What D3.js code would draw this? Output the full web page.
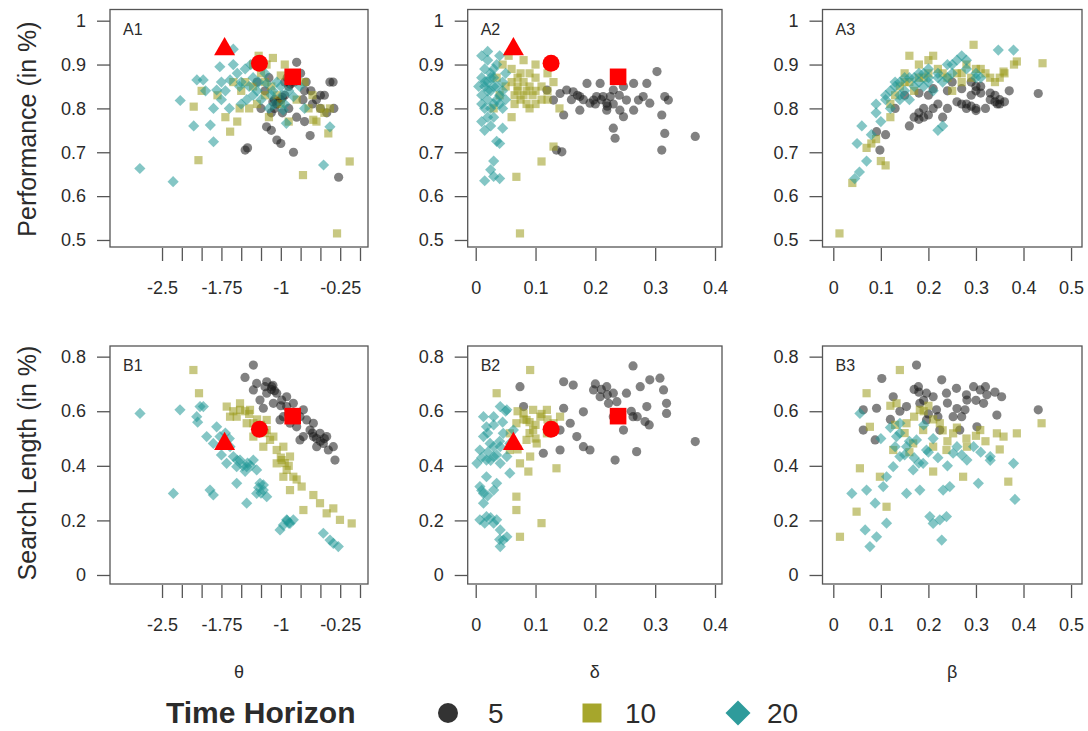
<!DOCTYPE html>
<html>
<head>
<meta charset="utf-8">
<script src="https://cdn.jsdelivr.net/npm/d3@7"></script>
<style>
  body { margin: 0; background: #fff; }
  svg { display: block; }
  text { font-family: "Liberation Sans", Arial, Helvetica, sans-serif; fill: #2b2b2b; }
</style>
</head>
<body>
<svg id="chart" width="1088" height="731"></svg>
<script>
// ---- axis ticks and labels ----
const thetaTicks = [-2.5, -2.25, -2, -1.75, -1.5, -1.25, -1, -0.75, -0.5, -0.25, 0];
const thetaTickLabels = { "-2.5": "-2.5", "-1.75": "-1.75", "-1": "-1", "-0.25": "-0.25" };
const deltaTicks = [0, 0.1, 0.2, 0.3, 0.4];
const deltaTickLabels = ["0", "0.1", "0.2", "0.3", "0.4"];
const betaTicks = [0, 0.1, 0.2, 0.3, 0.4, 0.5];
const betaTickLabels = ["0", "0.1", "0.2", "0.3", "0.4", "0.5"];
const perfTicks = [0.5, 0.6, 0.7, 0.8, 0.9, 1];
const perfTickLabels = ["0.5", "0.6", "0.7", "0.8", "0.9", "1"];
const searchTicks = [0, 0.2, 0.4, 0.6, 0.8];
const searchTickLabels = ["0", "0.2", "0.4", "0.6", "0.8"];

const horizons = ["5", "10", "20"];

// ---- Performance vs theta ----
const perfTheta5 = [[-1.45,0.705],[-1.42,0.71],[-1.18,0.758],[-1.12,0.75],[-1.05,0.728],[-1.0,0.72],[-0.84,0.70],[-0.63,0.738],[-0.27,0.643],[-1.1,0.815],[-1.05,0.81],[-1.0,0.82],[-0.95,0.83],[-1.08,0.80],[-0.98,0.79],[-0.9,0.80],[-0.95,0.86],[-0.9,0.85],[-0.85,0.87],[-0.8,0.905],[-0.75,0.88],[-0.7,0.84],[-0.62,0.84],[-0.55,0.82],[-0.5,0.83],[-0.45,0.83],[-0.38,0.86],[-0.34,0.86],[-0.5,0.80],[-0.6,0.81],[-1.2,0.84],[-1.3,0.86],[-1.15,0.87],[-0.8,0.78],[-0.7,0.77],[-0.42,0.79],[-0.33,0.80],[-1.08,0.82],[-1.03,0.815],[-0.98,0.825],[-0.88,0.855],[-0.83,0.86],[-0.92,0.87],[-1.12,0.79],[-0.72,0.82],[-0.68,0.86],[-1.25,0.80]];
const perfTheta10 = [[-2.1,0.804],[-2.04,0.682],[-1.64,0.747],[-1.52,0.80],[-1.35,0.85],[-1.18,0.90],[-1.1,0.915],[-1.05,0.83],[-0.85,0.88],[-0.72,0.648],[-0.59,0.774],[-0.5,0.80],[-0.38,0.80],[-0.4,0.743],[-0.13,0.679],[-0.29,0.515],[-2.0,0.84],[-1.8,0.83],[-1.45,0.86],[-1.4,0.80],[-1.25,0.88],[-1.3,0.81],[-1.2,0.83],[-1.0,0.875],[-0.95,0.90],[-0.8,0.82],[-0.7,0.86],[-0.65,0.80],[-1.55,0.77],[-1.15,0.78],[-1.6,0.86],[-0.9,0.77],[-1.35,0.9],[-1.28,0.92],[-1.2,0.86],[-1.12,0.85],[-1.0,0.81],[-0.6,0.83],[-0.45,0.79],[-1.7,0.78],[-1.5,0.84],[-0.55,0.77]];
const perfTheta20 = [[-2.78,0.663],[-2.36,0.633],[-2.27,0.818],[-2.06,0.865],[-1.98,0.865],[-1.89,0.762],[-1.85,0.724],[-1.81,0.842],[-1.77,0.895],[-1.6,0.935],[-1.64,0.865],[-1.52,0.85],[-1.43,0.82],[-1.35,0.87],[-1.18,0.857],[-0.97,0.796],[-0.93,0.766],[-0.84,0.827],[-0.76,0.85],[-0.46,0.671],[-0.38,0.758],[-1.7,0.84],[-1.55,0.88],[-1.45,0.89],[-1.4,0.85],[-1.3,0.84],[-1.25,0.82],[-1.1,0.84],[-1.05,0.86],[-1.0,0.85],[-0.9,0.84],[-0.95,0.81],[-1.15,0.8],[-1.5,0.81],[-1.95,0.84],[-1.75,0.82],[-1.6,0.90],[-1.2,0.88],[-1.65,0.80],[-1.38,0.90],[-1.35,0.83],[-1.28,0.86],[-1.12,0.83],[-1.08,0.81],[-0.98,0.83],[-1.5,0.86],[-1.75,0.86],[-1.85,0.8],[-2.1,0.76],[-0.7,0.80]];

// ---- Performance vs delta ----
const perfDelta5 = [[0.367,0.736],[0.311,0.705],[0.316,0.743],[0.311,0.785],[0.322,0.819],[0.316,0.827],[0.303,0.884],[0.286,0.857],[0.272,0.819],[0.264,0.796],[0.247,0.781],[0.230,0.755],[0.233,0.732],[0.219,0.812],[0.225,0.827],[0.213,0.827],[0.202,0.827],[0.191,0.812],[0.174,0.796],[0.174,0.827],[0.163,0.838],[0.152,0.842],[0.141,0.834],[0.147,0.785],[0.144,0.701],[0.135,0.705],[0.186,0.857],[0.208,0.857],[0.230,0.842],[0.247,0.850],[0.264,0.857],[0.280,0.827],[0.291,0.812],[0.252,0.819],[0.241,0.796],[0.197,0.819],[0.219,0.796],[0.130,0.819],[0.119,0.842],[0.18,0.82],[0.2,0.81],[0.21,0.82],[0.23,0.81],[0.17,0.83],[0.22,0.805],[0.24,0.83],[0.16,0.82]];
const perfDelta10 = [[0.074,0.515],[0.068,0.644],[0.11,0.679],[0.13,0.713],[0.045,0.90],[0.06,0.89],[0.07,0.87],[0.08,0.86],[0.09,0.88],[0.1,0.87],[0.085,0.84],[0.095,0.83],[0.11,0.85],[0.12,0.84],[0.075,0.82],[0.065,0.81],[0.09,0.80],[0.1,0.81],[0.05,0.85],[0.04,0.83],[0.06,0.78],[0.11,0.82],[0.13,0.86],[0.14,0.80],[0.035,0.87],[0.055,0.92],[0.08,0.91],[0.1,0.90],[0.12,0.88],[0.07,0.84],[0.03,0.80],[0.06,0.86],[0.07,0.85],[0.08,0.83],[0.09,0.85],[0.1,0.84],[0.075,0.88],[0.065,0.83],[0.085,0.81],[0.12,0.82]];
const perfDelta20 = [[0.01,0.92],[0.02,0.91],[0.015,0.89],[0.025,0.88],[0.01,0.87],[0.02,0.86],[0.03,0.87],[0.035,0.85],[0.015,0.85],[0.025,0.84],[0.04,0.83],[0.01,0.83],[0.02,0.82],[0.03,0.81],[0.045,0.80],[0.015,0.80],[0.02,0.78],[0.01,0.77],[0.025,0.76],[0.045,0.755],[0.04,0.72],[0.035,0.725],[0.03,0.68],[0.025,0.66],[0.03,0.645],[0.015,0.635],[0.04,0.64],[0.05,0.88],[0.045,0.86],[0.005,0.85],[0.035,0.90],[0.04,0.92],[0.05,0.82],[0.02,0.93],[0.015,0.86],[0.025,0.87],[0.03,0.85],[0.02,0.84],[0.035,0.82],[0.025,0.80],[0.04,0.81],[0.01,0.81],[0.03,0.89],[0.045,0.84],[0.015,0.75],[0.03,0.78]];

// ---- Performance vs beta ----
const perfBeta5 = [[0.098,0.705],[0.091,0.747],[0.18,0.79],[0.19,0.80],[0.2,0.785],[0.22,0.81],[0.2,0.83],[0.18,0.835],[0.21,0.845],[0.24,0.84],[0.26,0.815],[0.27,0.81],[0.28,0.80],[0.29,0.83],[0.27,0.845],[0.3,0.85],[0.31,0.85],[0.29,0.86],[0.33,0.82],[0.345,0.81],[0.35,0.82],[0.34,0.83],[0.32,0.80],[0.431,0.834],[0.25,0.86],[0.15,0.83],[0.13,0.8],[0.23,0.78],[0.37,0.84],[0.16,0.76],[0.24,0.80],[0.3,0.795],[0.33,0.835],[0.21,0.80],[0.11,0.74],[0.17,0.78],[0.18,0.775],[0.19,0.78],[0.28,0.81],[0.29,0.805],[0.3,0.80],[0.34,0.815],[0.35,0.81],[0.36,0.815],[0.3,0.84],[0.31,0.835]];
const perfBeta10 = [[0.013,0.515],[0.44,0.903],[0.295,0.945],[0.386,0.907],[0.358,0.884],[0.04,0.63],[0.07,0.71],[0.08,0.72],[0.1,0.68],[0.11,0.67],[0.12,0.78],[0.13,0.83],[0.15,0.88],[0.16,0.92],[0.18,0.90],[0.2,0.91],[0.22,0.89],[0.24,0.87],[0.26,0.88],[0.28,0.90],[0.3,0.89],[0.32,0.88],[0.34,0.86],[0.36,0.88],[0.38,0.90],[0.25,0.84],[0.19,0.87],[0.17,0.84],[0.27,0.86],[0.21,0.92],[0.15,0.86],[0.14,0.85],[0.16,0.86],[0.18,0.87],[0.2,0.88],[0.23,0.88],[0.27,0.88],[0.29,0.87],[0.31,0.89],[0.33,0.87],[0.35,0.87],[0.12,0.81],[0.09,0.73]];
const perfBeta20 = [[0.05,0.72],[0.06,0.76],[0.045,0.64],[0.055,0.655],[0.07,0.68],[0.08,0.74],[0.1,0.77],[0.09,0.81],[0.11,0.82],[0.12,0.84],[0.13,0.85],[0.14,0.86],[0.15,0.84],[0.16,0.87],[0.17,0.85],[0.18,0.88],[0.2,0.89],[0.22,0.87],[0.23,0.86],[0.25,0.88],[0.27,0.92],[0.26,0.91],[0.3,0.88],[0.31,0.87],[0.347,0.933],[0.379,0.933],[0.2,0.86],[0.21,0.84],[0.16,0.82],[0.14,0.83],[0.23,0.76],[0.22,0.75],[0.24,0.90],[0.19,0.85],[0.12,0.80],[0.28,0.89],[0.13,0.86],[0.15,0.87],[0.17,0.87],[0.18,0.86],[0.2,0.87],[0.22,0.88],[0.25,0.90],[0.28,0.91],[0.3,0.87],[0.09,0.79],[0.11,0.83],[0.14,0.82],[0.24,0.87],[0.19,0.88]];

// ---- Search length vs theta ----
const searchTheta5 = [[-1.347,0.769],[-1.452,0.724],[-1.305,0.702],[-1.178,0.708],[-1.115,0.690],[-1.052,0.666],[-1.178,0.666],[-1.221,0.611],[-0.989,0.641],[-0.926,0.617],[-0.842,0.592],[-0.758,0.580],[-0.800,0.543],[-0.673,0.568],[-0.631,0.531],[-0.589,0.507],[-0.505,0.519],[-0.463,0.482],[-0.400,0.458],[-0.316,0.421],[-0.547,0.470],[-0.715,0.507],[-0.884,0.556],[-0.968,0.580],[-1.094,0.629],[-0.926,0.653],[-0.715,0.605],[-1.347,0.678],[-1.263,0.641],[-1.010,0.568],[-0.589,0.556],[-0.421,0.507],[-0.758,0.495],[-0.337,0.470],[-0.842,0.629],[-1.12,0.68],[-1.08,0.675],[-1.1,0.695],[-0.9,0.59],[-0.86,0.58],[-0.8,0.57],[-0.6,0.52],[-0.55,0.5],[-0.5,0.49],[-0.45,0.5],[-1.0,0.62],[-1.2,0.69]];
const searchTheta10 = [[-2.104,0.751],[-2.033,0.666],[-1.683,0.617],[-1.515,0.605],[-1.557,0.580],[-1.431,0.556],[-1.347,0.507],[-1.221,0.470],[-1.136,0.495],[-1.052,0.458],[-0.989,0.421],[-0.926,0.385],[-0.884,0.434],[-0.842,0.360],[-0.737,0.324],[-0.589,0.293],[-0.715,0.238],[-0.337,0.244],[-0.253,0.202],[-0.105,0.189],[-1.641,0.580],[-1.515,0.629],[-1.389,0.605],[-1.347,0.556],[-1.178,0.531],[-1.094,0.507],[-0.968,0.470],[-1.052,0.409],[-0.968,0.360],[-0.884,0.311],[-0.505,0.263],[-0.421,0.226],[-1.284,0.543],[-1.178,0.568],[-1.45,0.6],[-1.4,0.59],[-1.3,0.57],[-1.25,0.55],[-1.2,0.52],[-1.0,0.43],[-0.95,0.41],[-0.9,0.40],[-0.8,0.35],[-1.6,0.6]];
const searchTheta20 = [[-2.778,0.592],[-2.357,0.299],[-2.273,0.605],[-2.062,0.580],[-2.020,0.617],[-1.894,0.311],[-1.852,0.293],[-1.810,0.543],[-1.768,0.507],[-1.599,0.434],[-1.684,0.409],[-1.557,0.397],[-1.515,0.421],[-1.431,0.397],[-1.347,0.421],[-1.305,0.385],[-1.431,0.263],[-1.557,0.336],[-1.263,0.336],[-1.221,0.311],[-1.178,0.287],[-1.305,0.299],[-1.010,0.165],[-0.926,0.202],[-0.842,0.202],[-0.884,0.189],[-0.968,0.183],[-0.463,0.153],[-0.379,0.128],[-0.274,0.104],[-0.337,0.116],[-1.852,0.482],[-1.641,0.470],[-1.978,0.617],[-1.936,0.507],[-1.55,0.42],[-1.48,0.40],[-1.42,0.41],[-1.38,0.40],[-1.45,0.38],[-1.28,0.32],[-1.25,0.30],[-1.22,0.33],[-0.92,0.20],[-0.9,0.19],[-1.7,0.52],[-1.65,0.50],[-1.75,0.44],[-2.05,0.56]];

// ---- Search length vs delta ----
const searchDelta5 = [[0.263,0.766],[0.074,0.690],[0.147,0.708],[0.163,0.696],[0.180,0.598],[0.197,0.678],[0.208,0.653],[0.219,0.690],[0.230,0.666],[0.236,0.635],[0.222,0.629],[0.230,0.580],[0.275,0.690],[0.291,0.715],[0.308,0.721],[0.314,0.678],[0.319,0.629],[0.319,0.592],[0.367,0.489],[0.283,0.562],[0.269,0.452],[0.233,0.421],[0.169,0.507],[0.180,0.470],[0.191,0.458],[0.141,0.531],[0.158,0.556],[0.141,0.458],[0.113,0.446],[0.147,0.611],[0.080,0.617],[0.263,0.580],[0.252,0.666],[0.247,0.531],[0.286,0.617],[0.2,0.70],[0.21,0.68],[0.22,0.66],[0.26,0.6],[0.27,0.58],[0.29,0.55]];
const searchDelta10 = [[0.091,0.751],[0.035,0.666],[0.110,0.190],[0.074,0.140],[0.068,0.238],[0.068,0.287],[0.135,0.391],[0.085,0.568],[0.096,0.531],[0.108,0.580],[0.119,0.605],[0.085,0.495],[0.091,0.434],[0.088,0.379],[0.074,0.409],[0.102,0.482],[0.119,0.519],[0.068,0.556],[0.057,0.519],[0.080,0.592],[0.130,0.556],[0.057,0.458],[0.096,0.605],[0.141,0.580],[0.07,0.6],[0.08,0.57],[0.09,0.56],[0.1,0.55],[0.11,0.59],[0.09,0.52],[0.1,0.5],[0.07,0.46],[0.12,0.57]];
const searchDelta20 = [[0.041,0.617],[0.052,0.605],[0.030,0.580],[0.018,0.543],[0.013,0.507],[0.007,0.458],[0.018,0.421],[0.030,0.434],[0.041,0.470],[0.046,0.519],[0.024,0.482],[0.007,0.324],[0.013,0.299],[0.030,0.311],[0.035,0.336],[0.018,0.360],[0.007,0.202],[0.018,0.214],[0.030,0.190],[0.041,0.165],[0.035,0.202],[0.046,0.128],[0.041,0.104],[0.052,0.140],[0.013,0.263],[0.041,0.409],[0.052,0.434],[0.057,0.373],[0.057,0.482],[0.063,0.531],[0.002,0.409],[0.013,0.580],[0.02,0.45],[0.03,0.47],[0.025,0.42],[0.035,0.44],[0.01,0.43],[0.04,0.49],[0.02,0.52],[0.03,0.55],[0.01,0.31],[0.02,0.29],[0.025,0.21],[0.015,0.19],[0.04,0.13],[0.045,0.56],[0.05,0.6]];

// ---- Search length vs beta ----
const searchBeta5 = [[0.175,0.769],[0.102,0.720],[0.126,0.653],[0.091,0.611],[0.063,0.605],[0.063,0.531],[0.088,0.495],[0.179,0.690],[0.182,0.629],[0.196,0.568],[0.228,0.715],[0.259,0.684],[0.295,0.690],[0.309,0.678],[0.323,0.660],[0.354,0.653],[0.344,0.586],[0.277,0.605],[0.252,0.580],[0.217,0.605],[0.210,0.653],[0.431,0.605],[0.281,0.641],[0.316,0.629],[0.238,0.666],[0.154,0.617],[0.196,0.666],[0.266,0.531],[0.302,0.543],[0.224,0.531],[0.17,0.68],[0.18,0.67],[0.2,0.59],[0.22,0.58],[0.19,0.64],[0.24,0.63],[0.26,0.61],[0.28,0.66],[0.3,0.64],[0.32,0.69],[0.34,0.67],[0.27,0.58],[0.14,0.6],[0.12,0.57]];
const searchBeta10 = [[0.014,0.140],[0.049,0.232],[0.056,0.391],[0.070,0.666],[0.140,0.751],[0.438,0.556],[0.368,0.342],[0.386,0.519],[0.358,0.507],[0.344,0.519],[0.309,0.531],[0.273,0.360],[0.210,0.379],[0.210,0.470],[0.189,0.531],[0.133,0.629],[0.154,0.556],[0.182,0.605],[0.224,0.556],[0.252,0.519],[0.112,0.250],[0.077,0.543],[0.098,0.360],[0.126,0.458],[0.281,0.470],[0.238,0.458],[0.168,0.482],[0.13,0.55],[0.15,0.52],[0.17,0.58],[0.19,0.6],[0.21,0.57],[0.23,0.53],[0.26,0.54],[0.28,0.50],[0.3,0.51],[0.32,0.49],[0.35,0.46],[0.12,0.62],[0.16,0.45],[0.2,0.62],[0.24,0.49]];
const searchBeta20 = [[0.056,0.592],[0.039,0.299],[0.070,0.311],[0.088,0.263],[0.105,0.324],[0.112,0.190],[0.067,0.165],[0.077,0.104],[0.091,0.140],[0.126,0.397],[0.140,0.434],[0.154,0.470],[0.133,0.507],[0.168,0.385],[0.182,0.311],[0.210,0.189],[0.224,0.202],[0.203,0.214],[0.238,0.214],[0.228,0.128],[0.231,0.311],[0.245,0.324],[0.252,0.446],[0.281,0.421],[0.295,0.470],[0.305,0.336],[0.330,0.434],[0.379,0.409],[0.382,0.277],[0.140,0.556],[0.175,0.495],[0.196,0.458],[0.112,0.360],[0.154,0.299],[0.189,0.409],[0.13,0.47],[0.15,0.44],[0.16,0.49],[0.17,0.43],[0.18,0.41],[0.2,0.45],[0.22,0.43],[0.24,0.40],[0.26,0.47],[0.27,0.44],[0.31,0.45],[0.33,0.42],[0.14,0.52],[0.12,0.54],[0.1,0.5],[0.19,0.55],[0.21,0.5]];

// ---- optimal-model reference points (red) ----
const refShapes = ["triangle", "circle", "square"];
const refTheta = [-1.71, -1.27, -0.85];
const refDelta = [0.063, 0.126, 0.238];
const refPerf = [0.935, 0.903, 0.872];
const refSearch = [0.48, 0.534, 0.582];

// ---- styling ----
const seriesColor = { "5": "#1a1a1a", "10": "#9a9a1c", "20": "#1f9796" };
const legendColor = { "5": "#333333", "10": "#a6a62c", "20": "#2e9b9b" };
const seriesShape = { "5": "circle", "10": "square", "20": "diamond" };
const pointAlpha = 0.55;
const refColor = "#ff0000";

const svg = d3.select("#chart");

// panel frames (pixel layout)
const colFrames = [{ x0: 110, x1: 368 }, { x0: 467.7, x1: 722 }, { x0: 822.5, x1: 1082 }];
const rowFrames = [{ y0: 9.5, y1: 247 }, { y0: 346, y1: 584 }];

const xVars = {
  theta: { domain: [-3.157, 0.101], ticks: thetaTicks, fmt: d => thetaTickLabels[String(d)] || "", ref: refTheta, title: "\u03b8" },
  delta: { domain: [-0.0134, 0.4117], ticks: deltaTicks, fmt: (d, i) => deltaTickLabels[i], ref: refDelta, title: "\u03b4" },
  beta:  { domain: [-0.0227, 0.523], ticks: betaTicks, fmt: (d, i) => betaTickLabels[i], ref: null, title: "\u03b2" }
};
const yVars = {
  perf:   { domain: [0.484, 1.0255], ticks: perfTicks, fmt: (d, i) => perfTickLabels[i], ref: refPerf, title: "Performance (in %)" },
  search: { domain: [-0.033, 0.839], ticks: searchTicks, fmt: (d, i) => searchTickLabels[i], ref: refSearch, title: "Search Length (in %)" }
};

const panels = [
  { label: "A1", row: 0, col: 0, x: "theta", y: "perf", series: { "5": perfTheta5, "10": perfTheta10, "20": perfTheta20 } },
  { label: "A2", row: 0, col: 1, x: "delta", y: "perf", series: { "5": perfDelta5, "10": perfDelta10, "20": perfDelta20 } },
  { label: "A3", row: 0, col: 2, x: "beta",  y: "perf", series: { "5": perfBeta5, "10": perfBeta10, "20": perfBeta20 } },
  { label: "B1", row: 1, col: 0, x: "theta", y: "search", series: { "5": searchTheta5, "10": searchTheta10, "20": searchTheta20 } },
  { label: "B2", row: 1, col: 1, x: "delta", y: "search", series: { "5": searchDelta5, "10": searchDelta10, "20": searchDelta20 } },
  { label: "B3", row: 1, col: 2, x: "beta",  y: "search", series: { "5": searchBeta5, "10": searchBeta10, "20": searchBeta20 } }
];

// symbol paths centred on the origin
function shapePath(shape, s) {
  if (shape === "circle") return d3.symbol().type(d3.symbolCircle).size(Math.PI * s * s)();
  if (shape === "square") return `M${-s},${-s}H${s}V${s}H${-s}Z`;
  if (shape === "diamond") return `M0,${-s}L${s},0L0,${s}L${-s},0Z`;
  if (shape === "triangle") {
    const h = s * Math.sqrt(3);
    return `M0,${-h * 2 / 3}L${s},${h / 3}L${-s},${h / 3}Z`;
  }
}
const pointSize = { circle: 4.6, square: 4.1, diamond: 5.6 };
const refSize = { circle: 8.5, square: 8.3, triangle: 10.5 };

panels.forEach(p => {
  const cf = colFrames[p.col], rf = rowFrames[p.row];
  const xv = xVars[p.x], yv = yVars[p.y];
  const x = d3.scaleLinear().domain(xv.domain).range([cf.x0, cf.x1]);
  const y = d3.scaleLinear().domain(yv.domain).range([rf.y1, rf.y0]);
  const g = svg.append("g");

  // points
  horizons.forEach(h => {
    const shape = seriesShape[h];
    g.append("g").selectAll("path").data(p.series[h]).join("path")
      .attr("d", shapePath(shape, pointSize[shape]))
      .attr("transform", d => `translate(${x(d[0])},${y(d[1])})`)
      .attr("fill", seriesColor[h])
      .attr("fill-opacity", pointAlpha);
  });

  // optimal-model markers
  if (xv.ref && yv.ref) {
    g.append("g").selectAll("path").data(refShapes).join("path")
      .attr("d", s => shapePath(s, refSize[s]))
      .attr("transform", (s, i) => `translate(${x(xv.ref[i])},${y(yv.ref[i])})`)
      .attr("fill", refColor);
  }

  // frame
  g.append("rect")
    .attr("x", cf.x0).attr("y", rf.y0)
    .attr("width", cf.x1 - cf.x0).attr("height", rf.y1 - rf.y0)
    .attr("fill", "none").attr("stroke", "#555").attr("stroke-width", 1.3);

  // axes
  const yAxis = g.append("g").attr("transform", `translate(${cf.x0},0)`)
    .call(d3.axisLeft(y).tickValues(yv.ticks).tickFormat(yv.fmt).tickSize(13).tickPadding(11));
  const xAxis = g.append("g").attr("transform", `translate(0,${rf.y1 + 1})`)
    .call(d3.axisBottom(x).tickValues(xv.ticks).tickFormat(xv.fmt).tickSize(13).tickPadding(20));
  [yAxis, xAxis].forEach(a => {
    a.select(".domain").remove();
    a.selectAll(".tick line").attr("stroke", "#555").attr("stroke-width", 1.3);
    a.selectAll(".tick text").style("font-size", "18px").attr("fill", "#333");
  });

  // panel tag
  g.append("text").attr("x", cf.x0 + 13).attr("y", rf.y0 + 25)
    .style("font-size", "16px").text(p.label);
});

// axis titles
colFrames.forEach((cf, i) => {
  const key = ["theta", "delta", "beta"][i];
  svg.append("text").attr("x", (cf.x0 + cf.x1) / 2).attr("y", 678)
    .attr("text-anchor", "middle").style("font-size", "18px").text(xVars[key].title);
});
rowFrames.forEach((rf, i) => {
  const key = ["perf", "search"][i];
  const cy = i === 0 ? 129 : 463;
  svg.append("text").attr("transform", `translate(27,${cy}) rotate(-90)`)
    .attr("text-anchor", "middle").attr("dy", "0.35em")
    .style("font-size", "25px").text(yVars[key].title);
});

// legend
const legend = svg.append("g");
legend.append("text").attr("x", 166).attr("y", 723)
  .style("font-size", "30px").style("font-weight", "bold").attr("fill", "#111").text("Time Horizon");
const legendItems = [
  { h: "5", cx: 448, tx: 488, size: 10 },
  { h: "10", cx: 592, tx: 625, size: 9.5 },
  { h: "20", cx: 738, tx: 767, size: 12.5 }
];
legendItems.forEach(it => {
  legend.append("path").attr("d", shapePath(seriesShape[it.h], it.size))
    .attr("transform", `translate(${it.cx},713)`).attr("fill", legendColor[it.h]);
  legend.append("text").attr("x", it.tx).attr("y", 723)
    .style("font-size", "28px").attr("fill", "#222").text(it.h);
});
</script>
</body>
</html>
